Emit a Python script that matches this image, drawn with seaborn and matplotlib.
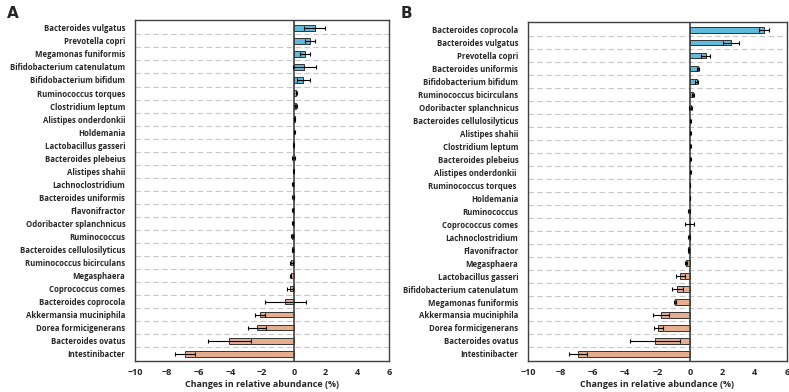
import numpy as np
import pandas as pd
import matplotlib
matplotlib.use("Agg")
import matplotlib.pyplot as plt
import seaborn as sns

# Panel A data
taxa_a = ["Bacteroides vulgatus", "Prevotella copri", "Megamonas funiformis",
          "Bifidobacterium catenulatum", "Bifidobacterium bifidum", "Ruminococcus torques",
          "Clostridium leptum", "Alistipes onderdonkii", "Holdemania", "Lactobacillus gasseri",
          "Bacteroides plebeius", "Alistipes shahii", "Lachnoclostridium", "Bacteroides uniformis",
          "Flavonifractor", "Odoribacter splanchnicus", "Ruminococcus",
          "Bacteroides cellulosilyticus", "Ruminococcus bicirculans", "Megasphaera",
          "Coprococcus comes", "Bacteroides coprocola", "Akkermansia muciniphila",
          "Dorea formicigenerans", "Bacteroides ovatus", "Intestinibacter"]
change_a = [1.31, 1.04, 0.71, 0.67, 0.60, 0.17, 0.15, 0.05, 0.04, -0.02,
            -0.03, -0.04, -0.05, -0.06, -0.07, -0.07, -0.10, -0.10, -0.15, -0.20,
            -0.22, -0.52, -2.12, -2.31, -4.06, -6.85]
err_a = [0.66, 0.30, 0.30, 0.72, 0.42, 0.05, 0.05, 0.05, 0.03, 0.02,
         0.08, 0.03, 0.03, 0.05, 0.04, 0.03, 0.05, 0.03, 0.10, 0.03,
         0.20, 1.27, 0.30, 0.55, 1.35, 0.64]

# Panel B data
taxa_b = ["Bacteroides coprocola", "Bacteroides vulgatus", "Prevotella copri",
          "Bacteroides uniformis", "Bifidobacterium bifidum", "Ruminococcus bicirculans",
          "Odoribacter splanchnicus", "Bacteroides cellulosilyticus", "Alistipes shahii",
          "Clostridium leptum", "Bacteroides plebeius", "Alistipes onderdonkii ",
          "Ruminococcus torques ", "Holdemania", "Ruminococcus", "Coprococcus comes",
          "Lachnoclostridium", "Flavonifractor", "Megasphaera", "Lactobacillus gasseri",
          "Bifidobacterium catenulatum", "Megamonas funiformis", "Akkermansia muciniphila",
          "Dorea formicigenerans", "Bacteroides ovatus", "Intestinibacter"]
change_b = [4.56, 2.52, 0.98, 0.48, 0.42, 0.19, 0.04, 0.03, 0.03, 0.03,
            0.03, 0.02, 0.02, 0.01, -0.03, -0.02, -0.08, -0.10, -0.25, -0.58,
            -0.77, -0.92, -1.79, -1.94, -2.13, -6.92]
err_b = [0.30, 0.50, 0.28, 0.06, 0.10, 0.06, 0.10, 0.03, 0.02, 0.02,
         0.02, 0.02, 0.01, 0.01, 0.06, 0.30, 0.06, 0.03, 0.08, 0.26,
         0.34, 0.05, 0.48, 0.25, 1.54, 0.54]

blue = "#4cc3ee"
orange = "#f5a97f"

sns.set_style("white")
plt.rcParams["font.family"] = ["Open Sans", "DejaVu Sans"]

fig = plt.figure(figsize=(7.89, 3.92), dpi=100)
ax_a = fig.add_axes([135 / 789, 1 - 361 / 392, 254 / 789, 341 / 392])
ax_b = fig.add_axes([528 / 789, 1 - 361 / 392, 259 / 789, 339 / 392])


def draw_panel(ax, taxa, change, err):
    df = pd.DataFrame({"taxon": taxa, "change": change, "err": err})
    df["sign"] = np.where(df["change"] >= 0, "up", "down")
    sns.barplot(data=df, x="change", y="taxon", hue="sign", orient="h",
                palette={"up": blue, "down": orange}, dodge=False, legend=False,
                width=0.42, edgecolor="#333333", linewidth=0.7, errorbar=None, ax=ax)
    ax.errorbar(df["change"], np.arange(len(df)), xerr=df["err"], fmt="none",
                ecolor="black", elinewidth=0.8, capsize=1.5, capthick=0.8, zorder=5)
    for i in range(len(df) - 1):
        ax.axhline(i + 0.5, color="#c8c8c8", ls=(0, (5, 3)), lw=0.8, zorder=0)
    ax.axvline(0, color="#404040", lw=1.2, zorder=4)
    ax.set_xlim(-10, 6)
    ax.set_ylim(len(df) - 0.45, -0.6)
    ax.set_xticks(range(-10, 7, 2))
    ax.set_xlabel("Changes in relative abundance (%)", fontsize=6.5, fontweight="bold", labelpad=2)
    ax.set_ylabel("")
    ax.tick_params(axis="y", length=0, labelsize=5.6, pad=7)
    ax.tick_params(axis="x", length=0, labelsize=6.5, pad=5)
    for lab in ax.get_xticklabels() + ax.get_yticklabels():
        lab.set_fontweight("bold")
    for sp in ax.spines.values():
        sp.set_visible(True)
        sp.set_color("#404040")
        sp.set_linewidth(1.0)
    return ax


draw_panel(ax_a, taxa_a, change_a, err_a)
draw_panel(ax_b, taxa_b, change_b, err_b)

fig.text(7 / 789, 1 - 18 / 392, "A", fontsize=11, fontweight="bold", family="DejaVu Sans")
fig.text(401 / 789, 1 - 18 / 392, "B", fontsize=11, fontweight="bold", family="DejaVu Sans")

fig.savefig("out.png", dpi=100)
